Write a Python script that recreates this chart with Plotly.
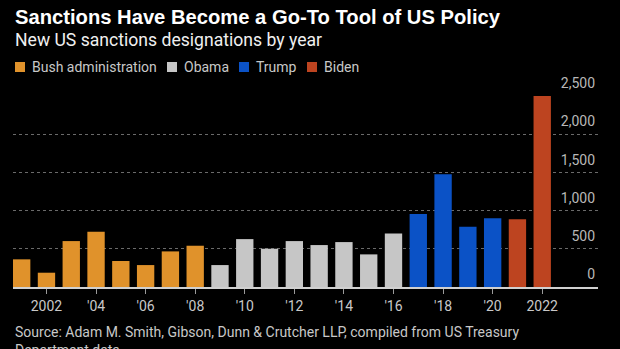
import plotly.graph_objects as go

# New US sanctions designations by year, grouped by administration
bush_years = [2001, 2002, 2003, 2004, 2005, 2006, 2007, 2008]
bush_values = [362, 187, 601, 723, 340, 287, 466, 540]
obama_years = [2009, 2010, 2011, 2012, 2013, 2014, 2015, 2016]
obama_values = [287, 627, 501, 601, 549, 588, 427, 701]
trump_years = [2017, 2018, 2019, 2020]
trump_values = [954, 1476, 788, 901]
biden_years = [2021, 2022]
biden_values = [888, 2500]

admin_names = ["Bush administration", "Obama", "Trump", "Biden"]
admin_colors = ["#E0922B", "#C6C6C6", "#0B52C6", "#BD4420"]

tick_years = [2002, 2004, 2006, 2008, 2010, 2012, 2014, 2016, 2018, 2020, 2022]
tick_text = ["2002", "'04", "'06", "'08", "'10", "'12", "'14", "'16", "'18", "'20", "2022"]
y_ticks = [0, 500, 1000, 1500, 2000, 2500]

W, H = 620, 349
L, R, T, B = 13, 22, 96, 62
FONT = "Roboto"


def px_x(x):
    return (x - L) / (W - L - R)


def px_y(y):
    return (H - B - y) / (H - T - B)


fig = go.Figure()
series = [
    (bush_years, bush_values),
    (obama_years, obama_values),
    (trump_years, trump_values),
    (biden_years, biden_values),
]
for (yrs, vals), name, color in zip(series, admin_names, admin_colors):
    fig.add_trace(go.Bar(
        x=yrs, y=vals, name=name, width=0.7,
        marker=dict(color=color, line=dict(width=0)),
        showlegend=False,
        hovertemplate="%{x}: %{y:,}<extra>" + name + "</extra>",
    ))

# Legend row: colour squares followed by labels
legend_x = [15, 167, 239, 307]
for name, color, lx in zip(admin_names, admin_colors, legend_x):
    fig.add_shape(type="rect", xref="paper", yref="paper",
                  x0=px_x(lx), x1=px_x(lx + 10), y0=px_y(72), y1=px_y(62),
                  fillcolor=color, line=dict(width=0))
    fig.add_annotation(text=name, xref="paper", yref="paper",
                       x=px_x(lx + 15), y=px_y(67), xanchor="left", yanchor="middle",
                       showarrow=False, font=dict(family=FONT, size=14, color="#c8c8c8"))

fig.add_annotation(text="<b>Sanctions Have Become a Go-To Tool of US Policy</b>",
                   xref="paper", yref="paper", x=px_x(13), y=px_y(17),
                   xanchor="left", yanchor="middle", showarrow=False,
                   font=dict(family="Liberation Sans", size=20.2, color="#ffffff"))
fig.add_annotation(text="New US sanctions designations by year",
                   xref="paper", yref="paper", x=px_x(13), y=px_y(40),
                   xanchor="left", yanchor="middle", showarrow=False,
                   font=dict(family=FONT, size=17.6, color="#f0f0f0"))
fig.add_annotation(text="Source: Adam M. Smith, Gibson, Dunn & Crutcher LLP, compiled from US Treasury<br>Department data",
                   xref="paper", yref="paper", x=px_x(13), y=px_y(322),
                   xanchor="left", yanchor="top", showarrow=False, align="left",
                   font=dict(family=FONT, size=14, color="#c8c8c8"))
fig.add_annotation(text="<b>Bloomberg</b>",
                   xref="paper", yref="paper", x=px_x(540), y=px_y(345),
                   xanchor="left", yanchor="top", showarrow=False,
                   font=dict(family="Liberation Sans", size=15, color="#ffffff"))

fig.update_layout(
    width=W, height=H, autosize=False,
    margin=dict(l=L, r=R, t=T, b=B),
    paper_bgcolor="#000000", plot_bgcolor="#000000",
    barmode="overlay",
    font=dict(family=FONT, color="#c8c8c8"),
    xaxis=dict(
        range=[2000.65, 2024.25], tickvals=tick_years, ticktext=tick_text,
        ticks="outside", ticklen=5, tickcolor="#9a9a9a", tickwidth=1,
        showgrid=False, zeroline=False,
        showline=True, linecolor="#d0d0d0", linewidth=1.5,
        tickfont=dict(family=FONT, size=14, color="#c8c8c8"),
    ),
    yaxis=dict(
        range=[0, 2500], tickvals=y_ticks, tickformat=",",
        side="right", ticklabelposition="inside top", ticklabeloverflow="allow",
        ticklabelshift=-3,
        ticks="", showgrid=True, gridcolor="#6a6a6a", gridwidth=1, griddash="dot",
        zeroline=False, showline=False,
        tickfont=dict(family=FONT, size=14, color="#b8b8b8"),
    ),
)

fig.write_html("out.html")
